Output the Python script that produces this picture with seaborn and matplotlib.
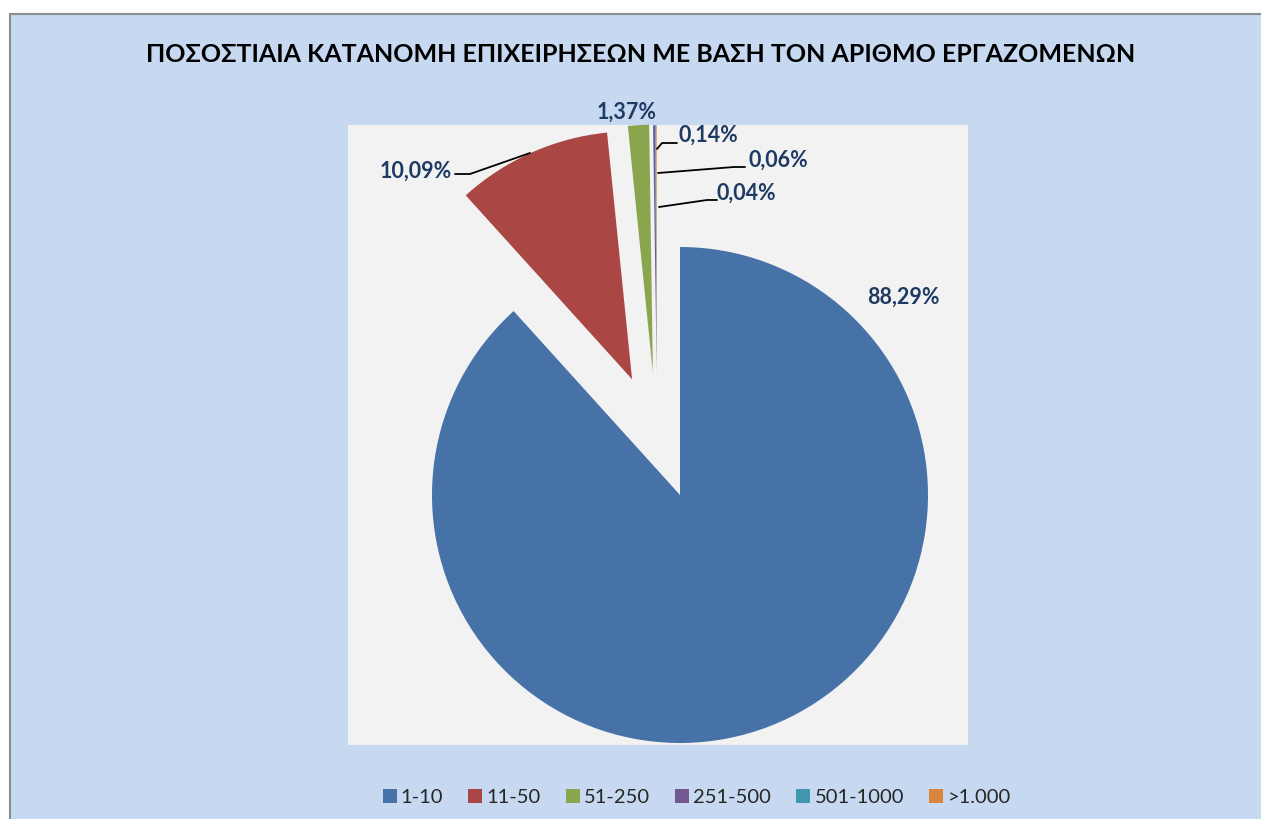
import numpy as np
import matplotlib
matplotlib.use("Agg")
import matplotlib.pyplot as plt
import seaborn as sns
from matplotlib.patches import Rectangle
from matplotlib.lines import Line2D

categories = ["1-10", "11-50", "51-250", "251-500", "501-1000", ">1.000"]
values = [88.29, 10.09, 1.37, 0.14, 0.06, 0.04]
labels = ["88,29%", "10,09%", "1,37%", "0,14%", "0,06%", "0,04%"]
colors = ["#4672A8", "#AA4643", "#89A54E", "#71588F", "#4198AF", "#DB843D"]
title = "ΠΟΣΟΣΤΙΑΙΑ ΚΑΤΑΝΟΜΗ ΕΠΙΧΕΙΡΗΣΕΩΝ ΜΕ ΒΑΣΗ ΤΟΝ ΑΡΙΘΜΟ ΕΡΓΑΖΟΜΕΝΩΝ"

sns.set_style("white")
plt.rcParams["font.family"] = ["Lato", "Open Sans", "DejaVu Sans"]

W, H = 1261, 819
fig = plt.figure(figsize=(W / 100, H / 100), dpi=100)
fig.patch.set_facecolor("white")
fig.add_artist(Rectangle((10 / W, -0.01), 1.1, (H - 14) / H + 0.01, transform=fig.transFigure,
                         facecolor="#C6D9F1", edgecolor="#8C8C8C", linewidth=1.5, zorder=-2))

# pie geometry (pixels) -> layout
cx, cy, R = 680, 495, 248
ax_l, ax_r, ax_t, ax_b = 348, 968, 125, 745
fig.add_artist(Rectangle((ax_l / W, (H - ax_b) / H), (ax_r - ax_l) / W, (ax_b - ax_t) / H,
                         transform=fig.transFigure, facecolor="#F2F2F2", edgecolor="none",
                         zorder=-1))
ax = fig.add_axes([ax_l / W, (H - ax_b) / H, (ax_r - ax_l) / W, (ax_b - ax_t) / H])
ax.set_zorder(1)
ax.patch.set_alpha(0)

def px(x, y):
    return ((x - cx) / R, (cy - y) / R)

wedges, _ = ax.pie(values, colors=colors, startangle=90, counterclock=False,
                   radius=1.0, wedgeprops=dict(linewidth=0))
# explosion offsets (angle in deg, distance in radii)
offsets = [(0, 0), (112.5, 0.505), (102.5, 0.505), (100.8, 0.5), (100.8, 0.5), (100.8, 0.5)]
for w, (ang, d) in zip(wedges, offsets):
    a = np.deg2rad(ang)
    w.set_center((d * np.cos(a), d * np.sin(a)))
ax.set_aspect("auto")
ax.set_xlim(px(ax_l, 0)[0], px(ax_r, 0)[0])
ax.set_ylim(px(0, ax_b)[1], px(0, ax_t)[1])
ax.set_axis_off()

label_pos = [(903, 297), (416, 171), (627, 112), (708, 135), (778, 160), (746, 193)]
lab_color = "#1F3B64"
for lab, (x, y) in zip(labels, label_pos):
    ax.text(*px(x, y), lab, ha="center", va="center", fontsize=15.5, fontweight="bold",
            color=lab_color, clip_on=False)

leaders = [
    [(530, 153), (470, 174), (455, 174)],
    [(657, 149), (662, 143), (677, 143)],
    [(658, 173), (734, 167), (745, 167)],
    [(659, 207), (707, 200), (717, 200)],
]
for pts in leaders:
    xs, ys = zip(*[px(x, y) for x, y in pts])
    ax.plot(xs, ys, color="black", linewidth=1.3, clip_on=False)

fig.text(641 / W, (H - 55) / H, title, ha="center", va="center", fontsize=18,
         fontweight="bold", color="black")

handles = [Line2D([0], [0], marker="s", linestyle="", markersize=10, markerfacecolor=c,
                  markeredgewidth=0) for c in colors]
fig.legend(handles, categories, loc="center", bbox_to_anchor=(695 / W, (H - 797) / H),
           ncol=6, frameon=False, fontsize=14.5, handletextpad=0.05, columnspacing=1.1,
           handlelength=1.0)

fig.savefig("out.png", dpi=100, facecolor=fig.get_facecolor())
